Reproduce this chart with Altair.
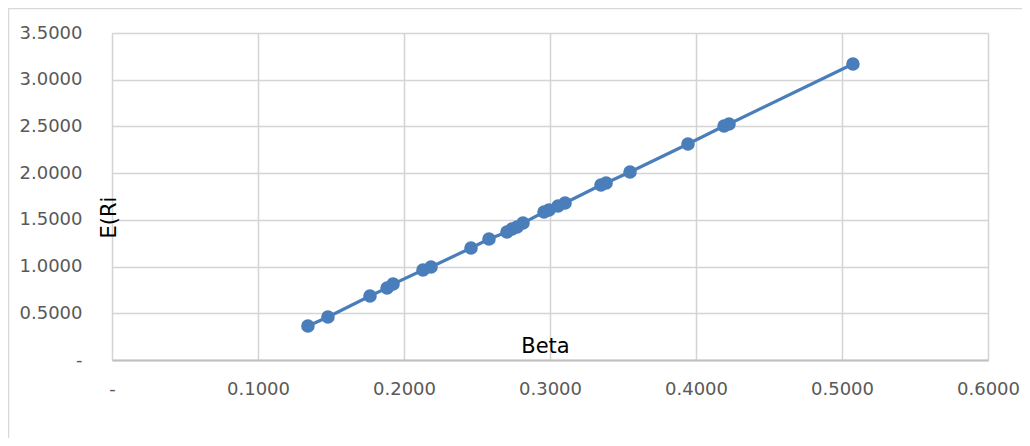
import altair as alt
import pandas as pd

beta = [0.1342, 0.1479, 0.1767, 0.1884, 0.1925, 0.2130, 0.2185, 0.2459, 0.2582,
        0.2705, 0.2740, 0.2774, 0.2815, 0.2959, 0.2993, 0.3055, 0.3103, 0.3349,
        0.3384, 0.3548, 0.3945, 0.4192, 0.4226, 0.5075]
eri = [0.364, 0.460, 0.685, 0.771, 0.813, 0.963, 0.995, 1.199, 1.295,
       1.370, 1.402, 1.424, 1.466, 1.584, 1.605, 1.648, 1.680, 1.873,
       1.894, 2.012, 2.312, 2.505, 2.526, 3.168]
x_ticks = [0, 0.1, 0.2, 0.3, 0.4, 0.5, 0.6]
y_ticks = [0, 0.5, 1.0, 1.5, 2.0, 2.5, 3.0, 3.5]

df = pd.DataFrame({"Beta": beta, "E(Ri": eri})

W, H = 876, 327
BLUE = "#4a7ebb"
FONT = "DejaVu Sans"

label_expr = "datum.value == 0 ? '-' : format(datum.value, '.4f')"

x = alt.X("Beta:Q",
          scale=alt.Scale(domain=[0, 0.6], nice=False, zero=True),
          axis=alt.Axis(values=x_ticks, labelExpr=label_expr, ticks=False,
                        labelPadding=20, labelFont=FONT, labelFontSize=18,
                        labelColor="#595959", grid=True, gridColor="#d4d4d4",
                        gridWidth=1.5,
                        domainColor="#bfbfbf", domainWidth=2,
                        title="Beta", titleFont=FONT, titleFontSize=21,
                        titleFontWeight="normal", titleColor="#000000",
                        titleX=433, titleY=-8, titleBaseline="alphabetic",
                        titleAlign="center", labelFlush=False))
y = alt.Y("E(Ri:Q",
          scale=alt.Scale(domain=[0, 3.5], nice=False),
          axis=alt.Axis(values=y_ticks, labelExpr=label_expr, ticks=False,
                        labelPadding=30, labelFont=FONT, labelFontSize=18,
                        labelColor="#595959", grid=True, gridColor="#d4d4d4",
                        gridWidth=1.5, domain=False,
                        title="E(Ri", titleFont=FONT, titleFontSize=21,
                        titleFontWeight="normal", titleColor="#000000",
                        titleX=3, titleY=184, titleAngle=-90,
                        titleBaseline="alphabetic", titleAlign="center",
                        labelFlush=False))

line = alt.Chart(df).mark_line(color=BLUE, strokeWidth=3.2).encode(x=x, y=y, order="Beta:Q")
pts = alt.Chart(df).mark_circle(color=BLUE, size=185, opacity=1).encode(x="Beta:Q", y="E(Ri:Q")

one = pd.DataFrame({"a": [0]})
top_edge = alt.Chart(one).mark_rule(color="#d9d9d9", strokeWidth=1.5).encode(
    x=alt.value(-104), x2=alt.value(W + 40), y=alt.value(-24.5))
left_edge = alt.Chart(one).mark_rule(color="#d9d9d9", strokeWidth=1.5).encode(
    x=alt.value(-103.5), y=alt.value(-25), y2=alt.value(H + 90))

chart = alt.layer(top_edge, left_edge, line, pts).properties(
    width=W, height=H,
    autosize=alt.AutoSizeParams(type="none"),
    padding={"left": 104, "top": 25, "right": 34, "bottom": 78},
).configure_view(stroke=None)

chart.save("out.html", embed_options={"renderer": "svg", "actions": False})
